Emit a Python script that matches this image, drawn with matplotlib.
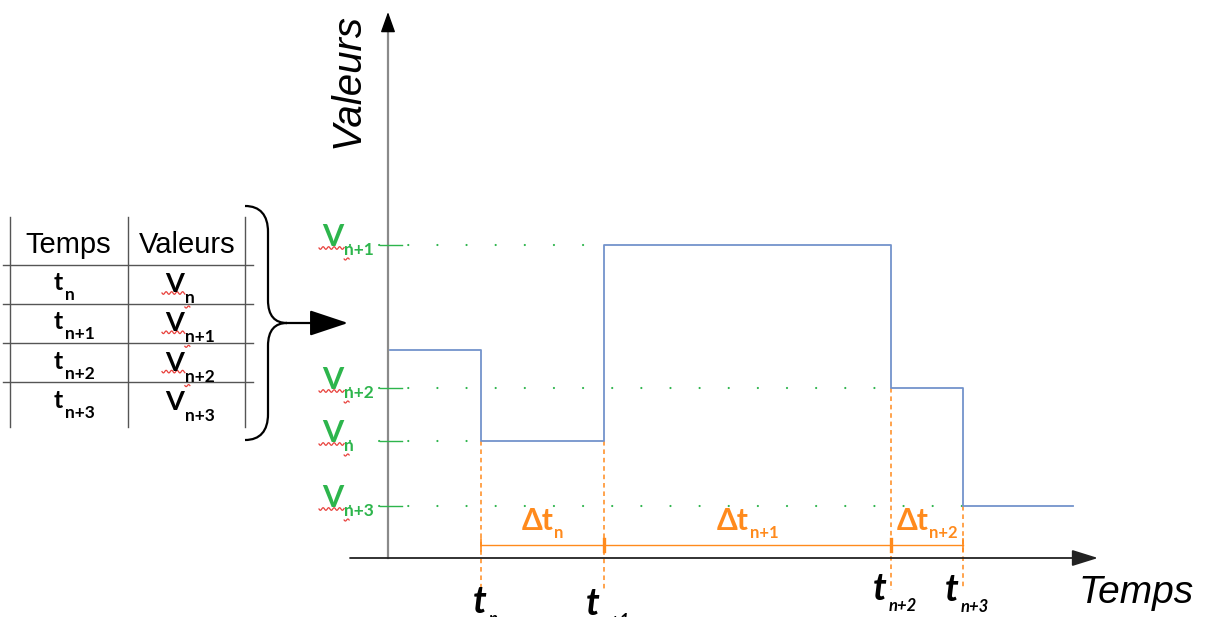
import numpy as np
import matplotlib
matplotlib.use("Agg")
import matplotlib.pyplot as plt
from matplotlib.path import Path
from matplotlib.patches import PathPatch

# step signal (arbitrary time / value units)
step_times = [0.02, 0.93, 2.16, 5.03, 5.75, 6.85]
step_values = [2.08, 1.17, 3.13, 1.70, 0.52, 0.52]

t_names = ["n", "n+1", "n+2", "n+3"]
t_marks = step_times[1:5]      # t_n .. t_n+3
v_marks = step_values[1:5]     # V_n .. V_n+3
delta_names = ["n", "n+1", "n+2"]

table_header = ["Temps", "Valeurs"]

BLUE = "#7393cb"
GREEN = "#2db54c"
ORANGE = "#ff8a1c"
RED = "#e8413c"
BOLD_FONT = "Lato"
PLAIN_FONT = "Liberation Sans"

fig = plt.figure(figsize=(12.06, 6.17), dpi=100)
ax = fig.add_axes([0, 0, 1, 1])
ax.set_xlim(-3.88, 8.18)
ax.set_ylim(-0.59, 5.58)
ax.axis("off")

# overlay in pixel units for the table and the brace
ov = fig.add_axes([0, 0, 1, 1])
ov.set_xlim(0, 1206)
ov.set_ylim(617, 0)
ov.axis("off")
ov.patch.set_alpha(0)


def sub_label(axis, x, y, main, sub, size, sub_size, drop, color,
              family=BOLD_FONT, style="normal", gap=1):
    m = axis.annotate(main, xy=(x, y), xytext=(0, 0), textcoords="offset pixels",
                      fontsize=size, color=color, family=family, fontweight="bold",
                      fontstyle=style, va="baseline", ha="left", annotation_clip=False)
    s = axis.annotate(sub, xy=(1, y), xycoords=(m, "data"), xytext=(gap, -drop),
                      textcoords="offset pixels", fontsize=sub_size, color=color,
                      family=family, fontweight="bold", fontstyle=style,
                      va="baseline", ha="left", annotation_clip=False)
    return m, s


# axes with arrows
ax.annotate("", xy=(7.10, 0), xytext=(-0.38, 0),
            arrowprops=dict(arrowstyle="-|>,head_length=0.8,head_width=0.25",
                            mutation_scale=20, lw=1.3, color="#222222",
                            shrinkA=0, shrinkB=0))
ax.plot([0, 0], [0, 5.30], color="#8a8a8a", lw=1.6)
ax.annotate("", xy=(0, 5.46), xytext=(0, 5.28),
            arrowprops=dict(arrowstyle="-|>,head_length=0.7,head_width=0.25",
                            mutation_scale=18, lw=1, color="black",
                            shrinkA=0, shrinkB=0))

# green value levels
v_labels = []
for name, v, t in zip(t_names, v_marks, t_marks):
    ax.plot([-0.38, t], [v, v], color=GREEN, lw=1.6,
            linestyle=(0, (0.01, 13.1)), dash_capstyle="round")
    ax.plot([-0.08, 0.14], [v, v], color=GREEN, lw=1)
    v_labels.append(sub_label(ax, -0.66, v - 0.01, "V", name, 22, 12.5, 9, GREEN))

# the step signal
ax.step(step_times, step_values, where="post", color=BLUE, lw=1.3, zorder=3)

# orange time markers
for k, t in enumerate(t_marks, start=1):
    top = min(step_values[k - 1], step_values[k])
    ax.plot([t, t], [top, -0.32], color=ORANGE, lw=1.1, linestyle=(0, (3, 2.5)))
    ax.plot([t, t], [0.07, 0.19], color=ORANGE, lw=2.4 if k in (2, 3) else 1.2)
ax.plot([t_marks[0], t_marks[-1]], [0.13, 0.13], color=ORANGE, lw=1)

centered = []
for name, a, b in zip(delta_names, t_marks[:-1], t_marks[1:]):
    centered.append((sub_label(ax, (a + b) / 2, 0.28, "\u0394t", name, 21.5, 12, 8, ORANGE), 0))

t_label_y = [-0.55, -0.57, -0.42, -0.43]
for name, t, yb in zip(t_names, t_marks, t_label_y):
    centered.append((sub_label(ax, t, yb, "t", name, 27, 12, 11, "black",
                               style="italic", gap=2), 4))

ax.text(6.90, -0.45, "Temps", fontsize=28, fontstyle="italic", family=PLAIN_FONT,
        ha="left", va="baseline")
ax.text(-0.40, 4.78, "Valeurs", fontsize=29, fontstyle="italic", family=PLAIN_FONT,
        rotation=90, ha="center", va="center")

# table on the left
for x in (10, 128, 245):
    ov.plot([x, x], [217, 427], color="#555555", lw=1)
for y in (265, 304, 343, 382):
    ov.plot([3, 253], [y, y], color="#555555", lw=1)
for label, xc in zip(table_header, (68, 187)):
    ov.text(xc, 253, label, fontsize=21, family=PLAIN_FONT, ha="center", va="baseline")
table_v = []
for i, name in enumerate(t_names):
    yb = 290 + 39.3 * i
    sub_label(ov, 54, yb, "t", name, 18, 12.5, 10, "black", gap=2)
    table_v.append(sub_label(ov, 165, yb + 2, "V", name, 19.5, 12.5, 11, "black"))

# brace and arrow
verts = [(245, 206), (260, 206), (268, 215), (268, 232),
         (268, 300),
         (268, 316), (275, 323), (287, 323),
         (275, 323), (268, 330), (268, 346),
         (268, 414),
         (268, 431), (260, 440), (245, 440)]
codes = ([Path.MOVETO] + [Path.CURVE4] * 3 + [Path.LINETO] + [Path.CURVE4] * 6
         + [Path.LINETO] + [Path.CURVE4] * 3)
ov.add_patch(PathPatch(Path(verts, codes), fill=False, lw=1.6, edgecolor="black"))
ov.annotate("", xy=(348, 323), xytext=(286, 323),
            arrowprops=dict(arrowstyle="-|>,head_length=1.2,head_width=0.4",
                            mutation_scale=20, lw=1.6, color="black",
                            shrinkA=0, shrinkB=0))

# center the labels that need it, then add the spell-check squiggles
renderer = fig.canvas.get_renderer()
for (m, s), dx in centered:
    w = s.get_window_extent(renderer).x1 - m.get_window_extent(renderer).x0
    m.xyann = (-w / 2 + dx, 0)


def squiggle(x0, x1, y, amp=1.3, period=5.5):
    xs = np.linspace(x0, x1, 60)
    ov.plot(xs, y + amp * np.sin((xs - x0) * 2 * np.pi / period), color=RED, lw=0.9)


for m, s in v_labels + table_v[:3]:
    mb = m.get_window_extent(renderer)
    sb = s.get_window_extent(renderer)
    yb = 617 - mb.y0
    squiggle(mb.x0 - 3, sb.x0, yb - 3)
    squiggle(sb.x0, sb.x0 + 5, 617 - sb.y0 + 1, amp=1.0, period=5)

fig.savefig("out.png", dpi=100)
